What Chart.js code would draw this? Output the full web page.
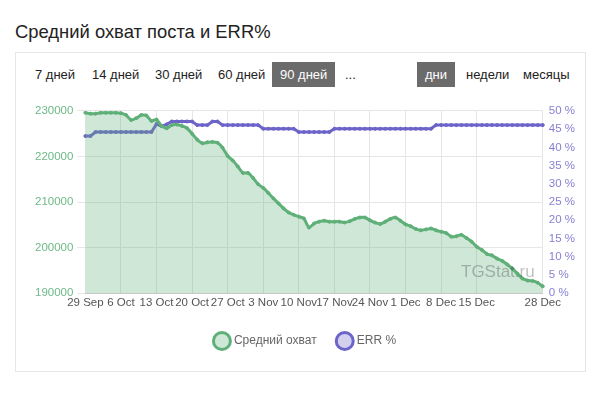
<!DOCTYPE html>
<html lang="ru">
<head>
  <meta charset="UTF-8">
  <title>Средний охват поста и ERR%</title>
  <script src="https://cdn.jsdelivr.net/npm/chart.js"></script>
  <style>
    * { box-sizing:border-box; }
    body {
      margin:0; width:600px; height:400px; background:#fff;
      font-family:"Liberation Sans", Arial, sans-serif; position:relative; overflow:hidden;
    }
    h1 {
      position:absolute; left:15px; top:21px; margin:0;
      font-size:18.4px; font-weight:normal; color:#222;
    }
    .card {
      position:absolute; left:15px; top:52px; width:571px; height:320px;
      border:1px solid #e6e6e6;
    }
    .btn {
      position:absolute; top:62px; height:25px; line-height:25px;
      font-size:13px; color:#222; padding:0 8px;
    }
    .btn.active { background:#6b6b6b; color:#fff; }
    #chartBox { position:absolute; left:31px; top:98px; width:550px; height:262px; }
    .watermark {
      position:absolute; left:461px; top:262px; font-size:17px; color:rgba(0,0,0,0.25);
    }
  </style>
</head>
<body>

<h1>Средний охват поста и ERR%</h1>
<div class="card"></div>

<!-- кнопки периода -->
<span class="btn" style="left:27px">7 дней</span>
<span class="btn" style="left:84px">14 дней</span>
<span class="btn" style="left:147px">30 дней</span>
<span class="btn" style="left:210px">60 дней</span>
<span class="btn active" style="left:272px">90 дней</span>
<span class="btn" style="left:337px">...</span>
<span class="btn active" style="left:417px">дни</span>
<span class="btn" style="left:458px">недели</span>
<span class="btn" style="left:515px">месяцы</span>

<div id="chartBox"><canvas id="chartReach"></canvas></div>
<div class="watermark">TGStat.ru</div>

<script>
  // дни (29 Sep .. 28 Dec)
  const days = [
    '29 Sep','30 Sep',
    '1 Oct','2 Oct','3 Oct','4 Oct','5 Oct','6 Oct','7 Oct','8 Oct','9 Oct','10 Oct',
    '11 Oct','12 Oct','13 Oct','14 Oct','15 Oct','16 Oct','17 Oct','18 Oct','19 Oct','20 Oct',
    '21 Oct','22 Oct','23 Oct','24 Oct','25 Oct','26 Oct','27 Oct','28 Oct','29 Oct','30 Oct','31 Oct',
    '1 Nov','2 Nov','3 Nov','4 Nov','5 Nov','6 Nov','7 Nov','8 Nov','9 Nov','10 Nov',
    '11 Nov','12 Nov','13 Nov','14 Nov','15 Nov','16 Nov','17 Nov','18 Nov','19 Nov','20 Nov',
    '21 Nov','22 Nov','23 Nov','24 Nov','25 Nov','26 Nov','27 Nov','28 Nov','29 Nov','30 Nov',
    '1 Dec','2 Dec','3 Dec','4 Dec','5 Dec','6 Dec','7 Dec','8 Dec','9 Dec','10 Dec',
    '11 Dec','12 Dec','13 Dec','14 Dec','15 Dec','16 Dec','17 Dec','18 Dec','19 Dec','20 Dec',
    '21 Dec','22 Dec','23 Dec','24 Dec','25 Dec','26 Dec','27 Dec','28 Dec'
  ];

  // подписи, которые видны на оси X
  const shownTicks = ['29 Sep','6 Oct','13 Oct','20 Oct','27 Oct','3 Nov','10 Nov',
                      '17 Nov','24 Nov','1 Dec','8 Dec','15 Dec','28 Dec'];

  // средний охват
  const reach = [
    229600,229400,229400,229600,229600,229600,229600,229500,229100,228000,
    228400,229100,229000,227800,228100,226700,226200,226900,227000,226700,
    226200,225000,223700,222900,223100,223200,223000,221900,220100,219100,
    217800,216400,216400,215300,213900,213100,212000,210800,209700,208600,
    207700,207200,206800,206400,204400,205300,205700,205900,205700,205700,
    205700,205500,205800,206300,206600,206600,206000,205500,205200,205700,
    206300,206600,205900,205100,204700,204100,203800,204000,204200,203800,
    203500,203200,202400,202500,202800,202100,201300,200200,199500,198600,
    198300,197600,197100,196300,195400,194300,193200,192800,192700,192300,
    191500
  ];

  // ERR %
  const err = [
    43.1,43.1,44.2,44.2,44.2,44.2,44.2,44.2,44.2,44.2,
    44.2,44.2,44.2,44.2,46.4,45.8,46.3,47.1,47.1,47.1,
    47.1,47.1,46.1,46.1,46.1,47.1,47.1,46.1,46.1,46.1,
    46.1,46.1,46.1,46.1,46.1,45.1,45.1,45.1,45.1,45.1,
    45.1,45.1,44.2,44.2,44.2,44.2,44.2,44.2,44.2,45.1,
    45.1,45.1,45.1,45.1,45.1,45.1,45.1,45.1,45.1,45.1,
    45.1,45.1,45.1,45.1,45.1,45.1,45.1,45.1,45.1,46.1,
    46.1,46.1,46.1,46.1,46.1,46.1,46.1,46.1,46.1,46.1,
    46.1,46.1,46.1,46.1,46.1,46.1,46.1,46.1,46.1,46.1,
    46.1
  ];

  const verde  = 'rgb(95,176,120)';
  const morado = 'rgb(108,100,200)';
  const fuente = '"Liberation Sans", Arial, sans-serif';

  new Chart(document.getElementById('chartReach'), {
    type: 'line',
    data: {
      labels: days,
      datasets: [{
        label: 'Средний охват',
        data: reach,
        yAxisID: 'y',
        borderColor: verde,
        backgroundColor: 'rgba(95,176,120,0.3)',
        pointBackgroundColor: verde,
        borderWidth: 3,
        pointRadius: 1.5,
        pointBorderWidth: 1,
        tension: 0.2,
        fill: 'start'
      }, {
        label: 'ERR %',
        data: err,
        yAxisID: 'y1',
        borderColor: morado,
        backgroundColor: 'rgba(108,100,200,0.3)',
        pointBackgroundColor: morado,
        borderWidth: 3,
        pointRadius: 1.5,
        pointBorderWidth: 1,
        tension: 0,
        fill: false
      }]
    },
    options: {
      responsive: true,
      maintainAspectRatio: false,
      animation: false,
      layout: { padding: { top: 4, bottom: 3 } },
      plugins: {
        legend: {
          position: 'bottom',
          labels: {
            usePointStyle: true,
            pointStyle: 'circle',
            color: '#666',
            font: { size: 12, family: fuente },
            padding: 22,
            // кружки легенды: светлая заливка + цветная рамка
            generateLabels: chart => {
              const items = Chart.defaults.plugins.legend.labels.generateLabels(chart);
              items.forEach(it => {
                const ds = chart.data.datasets[it.datasetIndex];
                it.fillStyle = ds.backgroundColor;
                it.strokeStyle = ds.borderColor;
                it.lineWidth = 3;
              });
              return items;
            }
          }
        },
        tooltip: { enabled: false }
      },
      scales: {
        x: {
          afterBuildTicks: axis => {
            axis.ticks = axis.ticks.filter(t => shownTicks.includes(days[t.value]));
          },
          ticks: {
            autoSkip: false, maxRotation: 0,
            color: '#555',
            font: { size: 11.5, family: fuente }
          },
          grid: { color: '#e6e6e6', drawTicks: false },
          border: { color: '#c8c8c8' }
        },
        y: {
          position: 'left',
          min: 190000, max: 230000,
          ticks: {
            stepSize: 10000, color: 'rgb(110,185,135)', padding: 4,
            callback: v => String(v),
            font: { size: 11.5, family: fuente }
          },
          grid: { color: '#e6e6e6' },
          border: { display: false }
        },
        y1: {
          position: 'right',
          min: 0, max: 50,
          ticks: {
            stepSize: 5, color: 'rgb(135,128,210)', padding: 6,
            callback: v => v + ' %',
            font: { size: 11.5, family: fuente }
          },
          grid: { drawOnChartArea: false, drawTicks: false },
          border: { display: false }
        }
      }
    }
  });
</script>
</body>
</html>
